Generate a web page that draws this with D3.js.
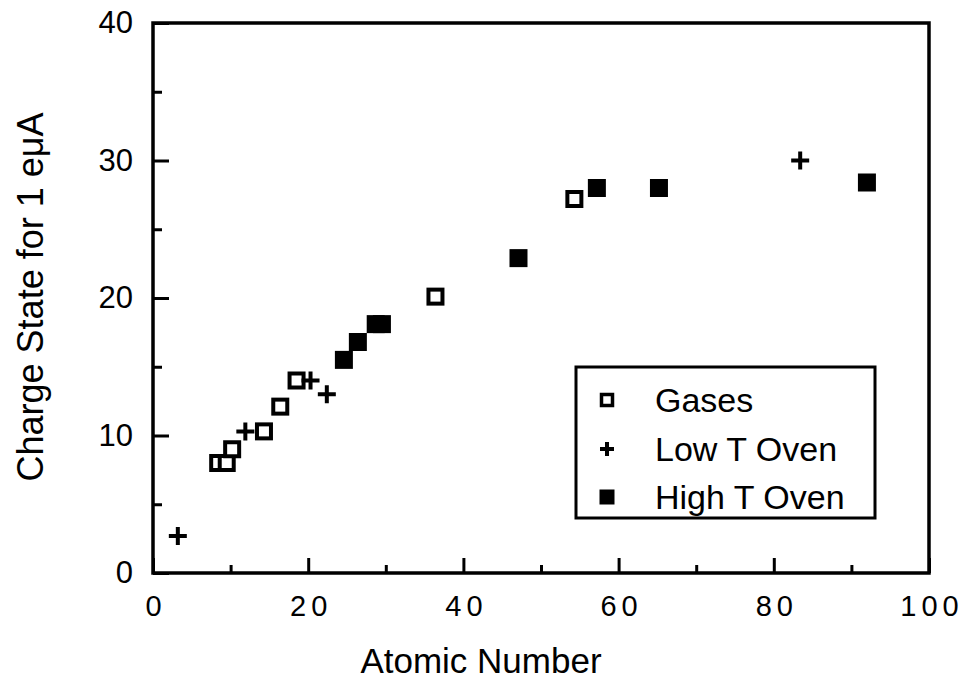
<!DOCTYPE html>
<html>
<head>
<meta charset="utf-8">
<script src="https://cdn.jsdelivr.net/npm/d3@7"></script>
<style>
  html, body { margin: 0; padding: 0; background: #fff; }
  svg { display: block; }
  text { font-family: "Liberation Sans", Arial, Helvetica, sans-serif; fill: #000; }
</style>
</head>
<body>
<svg id="chart" width="963" height="689"></svg>
<script>
// ---- data ----
const seriesNames = ["Gases", "Low T Oven", "High T Oven"];
const gasesX = [8.4, 9.5, 10.2, 14.3, 16.4, 18.5, 36.4, 54.3];
const gasesY = [8.0, 8.0, 9.0, 10.3, 12.1, 14.0, 20.1, 27.2];
const lowX   = [3.2, 11.9, 20.3, 22.4, 83.4];
const lowY   = [2.7, 10.3, 14.0, 13.0, 30.0];
const highX  = [24.6, 26.4, 28.7, 29.5, 47.1, 57.2, 65.2, 92.0];
const highY  = [15.5, 16.8, 18.1, 18.1, 22.9, 28.0, 28.0, 28.4];
const xTicks = [0, 20, 40, 60, 80, 100];
const xMinorTicks = [10, 30, 50, 70, 90];
const yTicks = [0, 10, 20, 30, 40];
const yMinorTicks = [5, 15, 25, 35];
const xTitle = "Atomic Number";
const yTitle = "Charge State for 1 eμA";

// ---- layout ----
const svg = d3.select("#chart");
const L = 153, R = 929, T = 23, B = 573;
const x = d3.scaleLinear().domain([0, 100]).range([L, R]);
const y = d3.scaleLinear().domain([0, 40]).range([B, T]);

// frame
svg.append("rect")
  .attr("x", L).attr("y", T).attr("width", R - L).attr("height", B - T)
  .attr("fill", "none").attr("stroke", "#000").attr("stroke-width", 3.5);

// x axis (major ticks inward + labels)
const gx = svg.append("g").attr("transform", `translate(0,${B})`)
  .call(d3.axisBottom(x).tickValues(xTicks).tickSize(-15).tickPadding(22).tickFormat(d3.format("d")));
gx.select(".domain").remove();
gx.selectAll(".tick line").attr("stroke", "#000").attr("stroke-width", 3);
gx.selectAll(".tick text")
  .style("font-size", "29px").style("letter-spacing", "5px").attr("dx", "2.5px")
  .style("font-family", "'Liberation Sans', Arial, sans-serif");

const gxm = svg.append("g").attr("transform", `translate(0,${B})`)
  .call(d3.axisBottom(x).tickValues(xMinorTicks).tickSize(-8).tickFormat(""));
gxm.select(".domain").remove();
gxm.selectAll(".tick line").attr("stroke", "#000").attr("stroke-width", 3);

// y axis
const gy = svg.append("g").attr("transform", `translate(${L},0)`)
  .call(d3.axisLeft(y).tickValues(yTicks).tickSize(-16).tickPadding(20).tickFormat(d3.format("d")));
gy.select(".domain").remove();
gy.selectAll(".tick line").attr("stroke", "#000").attr("stroke-width", 3);
gy.selectAll(".tick text")
  .style("font-size", "31px")
  .style("font-family", "'Liberation Sans', Arial, sans-serif");

const gym = svg.append("g").attr("transform", `translate(${L},0)`)
  .call(d3.axisLeft(y).tickValues(yMinorTicks).tickSize(-9).tickFormat(""));
gym.select(".domain").remove();
gym.selectAll(".tick line").attr("stroke", "#000").attr("stroke-width", 3);

// axis titles
svg.append("text")
  .attr("x", 481).attr("y", 673).attr("text-anchor", "middle")
  .style("font-size", "35px").text(xTitle);
svg.append("text")
  .attr("transform", "translate(43,297) rotate(-90)")
  .attr("text-anchor", "middle").style("font-size", "36px").text(yTitle);

// ---- markers ----
const plot = svg.append("g");
function openSquare(g, cx, cy, s, sw) {
  g.append("rect").attr("x", cx - s / 2).attr("y", cy - s / 2)
    .attr("width", s).attr("height", s)
    .attr("fill", "#fff").attr("stroke", "#000").attr("stroke-width", sw);
}
function filledSquare(g, cx, cy, s) {
  g.append("rect").attr("x", cx - s / 2).attr("y", cy - s / 2)
    .attr("width", s).attr("height", s).attr("fill", "#000");
}
function plus(g, cx, cy, s, sw) {
  g.append("path")
    .attr("d", `M${cx - s / 2},${cy}H${cx + s / 2}M${cx},${cy - s / 2}V${cy + s / 2}`)
    .attr("stroke", "#000").attr("stroke-width", sw).attr("fill", "none");
}

gasesX.forEach((d, i) => openSquare(plot, x(d), y(gasesY[i]), 14, 4));
lowX.forEach((d, i) => plus(plot, x(d), y(lowY[i]), 18, 4));
highX.forEach((d, i) => filledSquare(plot, x(d), y(highY[i]), 18));

// ---- legend ----
const lg = svg.append("g");
lg.append("rect").attr("x", 576).attr("y", 367).attr("width", 299).attr("height", 151)
  .attr("fill", "#fff").attr("stroke", "#000").attr("stroke-width", 3);
const rowY = [400, 449, 497];
openSquare(lg, 607, rowY[0], 11, 3.5);
plus(lg, 607, rowY[1], 14, 4);
filledSquare(lg, 607, rowY[2], 15);
seriesNames.forEach((n, i) => {
  lg.append("text").attr("x", 655).attr("y", rowY[i]).attr("dy", "0.36em")
    .style("font-size", "34px").text(n);
});
</script>
</body>
</html>
